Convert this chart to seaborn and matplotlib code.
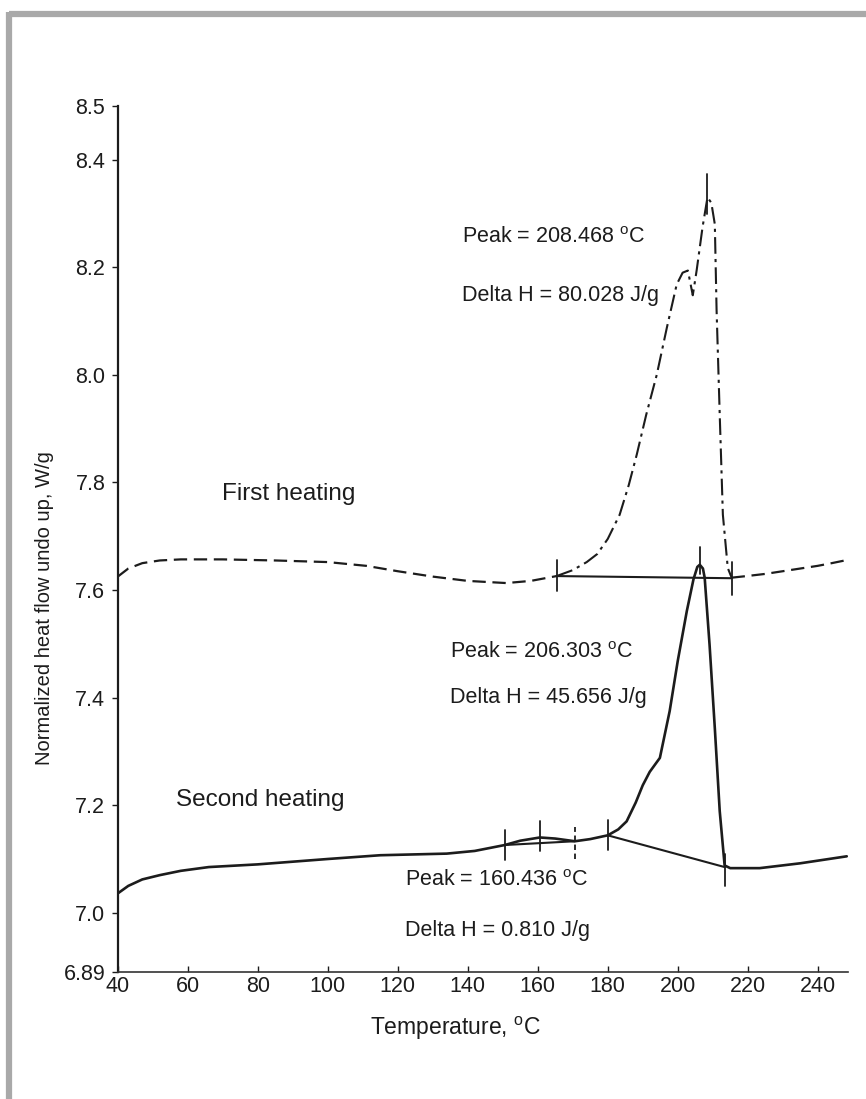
import numpy as np
import pandas as pd
import matplotlib
matplotlib.use('Agg')
import matplotlib.pyplot as plt
import seaborn as sns
from matplotlib.lines import Line2D

# first heating (dashed curve)
t1 = [40, 43, 47, 52, 58, 70, 85, 100, 111, 120, 130, 140, 151, 158, 165.4,
      170, 174, 177, 180, 183.4, 186, 188.3, 191, 194, 196.9, 199.7, 201.4,
      202.9, 204.3, 205.4, 207.1, 208.5, 209.6, 210.6, 211.1, 212, 212.9,
      214.3, 215.4, 219.7, 225, 230, 235, 240, 244, 248.5]
hf1 = [7.625, 7.64, 7.65, 7.655, 7.657, 7.657, 7.655, 7.652, 7.645, 7.635,
       7.625, 7.617, 7.613, 7.617, 7.626, 7.637, 7.652, 7.667, 7.695, 7.74,
       7.795, 7.852, 7.926, 8.0, 8.088, 8.168, 8.19, 8.194, 8.148, 8.194,
       8.275, 8.33, 8.32, 8.28, 8.121, 7.926, 7.74, 7.641, 7.623, 7.626,
       7.63, 7.635, 7.64, 7.645, 7.65, 7.656]

# second heating (solid curve)
t2 = [40, 43, 47, 52, 58, 66, 80, 100, 115, 134, 142, 150.6, 155, 160.6, 165,
      170.6, 175, 180, 183, 185.4, 188, 190, 192, 194.9, 197.7, 200, 202.6,
      204.5, 205.6, 206.3, 207.2, 207.7, 209.1, 210.6, 212, 213.4, 215, 223.4,
      235, 248.3]
hf2 = [7.036, 7.05, 7.062, 7.07, 7.078, 7.085, 7.09, 7.1, 7.107, 7.11, 7.115,
       7.126, 7.134, 7.14, 7.138, 7.133, 7.137, 7.144, 7.155, 7.17, 7.205,
       7.237, 7.262, 7.288, 7.375, 7.468, 7.561, 7.62, 7.643, 7.647, 7.64,
       7.623, 7.498, 7.343, 7.189, 7.088, 7.083, 7.083, 7.092, 7.105]

# integration baselines (x0, x1, y0, y1)
baselines = [(165.4, 215.4, 7.626, 7.622),
             (150.6, 170.6, 7.126, 7.133),
             (180.0, 213.4, 7.144, 7.085)]
# vertical marks (x, ylow, yhigh)
marks = [(165.4, 7.598, 7.656), (215.4, 7.59, 7.652), (208.5, 8.30, 8.373),
         (150.6, 7.098, 7.153), (160.6, 7.114, 7.17), (180.0, 7.116, 7.172),
         (213.4, 7.05, 7.11), (206.3, 7.63, 7.68)]
marks_dashed = [(170.6, 7.10, 7.16)]

notes = [(138.3, 8.256, 'Peak = 208.468 $^{\\rm o}$C'),
         (138.3, 8.148, 'Delta H = 80.028 J/g'),
         (135.0, 7.484, 'Peak = 206.303 $^{\\rm o}$C'),
         (135.0, 7.400, 'Delta H = 45.656 J/g'),
         (122.0, 7.060, 'Peak = 160.436 $^{\\rm o}$C'),
         (122.0, 6.967, 'Delta H = 0.810 J/g')]
curve_names = [(69.7, 7.779, 'First heating'),
               (56.6, 7.209, 'Second heating')]

yticks = [6.89, 7.0, 7.2, 7.4, 7.6, 7.8, 8.0, 8.2, 8.4, 8.5]
ytick_labels = ['6.89', '7.0', '7.2', '7.4', '7.6', '7.8', '8.0', '8.2', '8.4', '8.5']
xticks = list(range(40, 241, 20))

sns.set_style('ticks')
plt.rcParams['font.family'] = ['Liberation Sans', 'DejaVu Sans']
plt.rcParams['mathtext.fontset'] = 'custom'
plt.rcParams['mathtext.rm'] = 'Liberation Sans'
plt.rcParams['mathtext.it'] = 'Liberation Sans:italic'

ink = '#1c1c1c'
fig = plt.figure(figsize=(8.66, 10.99), dpi=100)
ax = fig.add_axes([0.136, 0.1156, 0.843, 0.788])

df1 = pd.DataFrame({'t': t1, 'hf': hf1})
base = df1[(df1.t <= 165.4) | (df1.t >= 215.4)].copy()
base['part'] = np.where(base.t <= 165.4, 'a', 'b')
peak = df1[(df1.t >= 165.4) & (df1.t <= 215.4)]
for part, g in base.groupby('part'):
    sns.lineplot(data=g, x='t', y='hf', ax=ax, color=ink, lw=1.6,
                 linestyle=(0, (6, 3)), estimator=None)
sns.lineplot(data=peak, x='t', y='hf', ax=ax, color=ink, lw=1.5,
             linestyle=(0, (8, 2.5, 1.5, 2.5)), estimator=None)

df2 = pd.DataFrame({'t': t2, 'hf': hf2})
sns.lineplot(data=df2, x='t', y='hf', ax=ax, color=ink, lw=1.9, estimator=None)

for x0, x1, y0, y1 in baselines:
    ax.plot([x0, x1], [y0, y1], color=ink, lw=1.5)
for x, lo, hi in marks:
    ax.plot([x, x], [lo, hi], color=ink, lw=1.3)
for x, lo, hi in marks_dashed:
    ax.plot([x, x], [lo, hi], color=ink, lw=1.3, linestyle=(0, (3, 2)))

for x, y, s in notes:
    ax.text(x, y, s, fontsize=15.5, ha='left', va='center', color=ink)
for x, y, s in curve_names:
    ax.text(x, y, s, fontsize=17.5, ha='left', va='center', color=ink)

ax.set_xlim(40, 248.6)
ax.set_ylim(6.89, 8.5)
ax.set_yticks(yticks)
ax.set_yticklabels(ytick_labels)
ax.set_xticks(xticks)
ax.tick_params(axis='y', direction='out', length=4, width=1, pad=5,
               labelsize=15.5, colors=ink)
ax.tick_params(axis='x', direction='in', length=4, width=1, pad=3,
               labelsize=15.5, colors=ink)
sns.despine(ax=ax)
ax.spines['left'].set_linewidth(1.6)
ax.spines['bottom'].set_linewidth(1.2)
ax.spines['left'].set_color(ink)
ax.spines['bottom'].set_color('#333333')

ax.set_xlabel('Temperature, $^{\\rm o}$C', fontsize=16.5, color=ink)
ax.set_ylabel('Normalized heat flow undo up, W/g', fontsize=14.5, color=ink)
ax.xaxis.set_label_coords(0.463, -0.065)
ax.xaxis.label.set_va('center')
ax.yaxis.set_label_coords(-0.101, 0.42)
ax.yaxis.label.set_va('center')

# grey frame of the scanned figure
fig.add_artist(Line2D([0.0104, 1.0], [0.9873, 0.9873], color='#a9a9a9', lw=4.5,
                      transform=fig.transFigure, solid_capstyle='butt'))
fig.add_artist(Line2D([0.0104, 0.0104], [0.0, 0.9893], color='#a9a9a9', lw=4.5,
                      transform=fig.transFigure, solid_capstyle='butt'))

fig.savefig('out.png', dpi=100)
